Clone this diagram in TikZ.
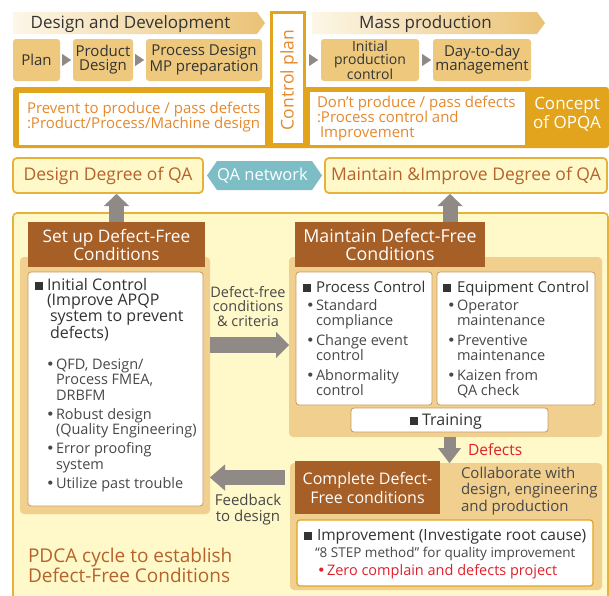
\documentclass[tikz,border=0pt]{standalone}
\usepackage{fontspec}
\setmainfont{Open Sans}
\newfontfamily\djv{DejaVu Sans}
\usetikzlibrary{arrows.meta,calc}
\definecolor{cTan}{HTML}{EEC97D}
\definecolor{cGold}{HTML}{E2A41C}
\definecolor{cGoldL}{HTML}{E6B23A}
\definecolor{cYellow}{HTML}{FFF8C8}
\definecolor{cPanel}{HTML}{F1CF8E}
\definecolor{cBrown}{HTML}{A65F27}
\definecolor{cBrText}{HTML}{B5632B}
\definecolor{cOrange}{HTML}{E6892C}
\definecolor{cTeal}{HTML}{7DBEC6}
\definecolor{cGray}{HTML}{8F8A85}
\definecolor{cDark}{HTML}{333333}
\definecolor{cText}{HTML}{484848}
\definecolor{cRed}{HTML}{E0202A}
\definecolor{cBorder}{HTML}{C99A5E}
\definecolor{cBanL}{HTML}{FDF7E8}
\definecolor{cBanR}{HTML}{EAC276}
\newcommand{\fsz}[2]{\fontsize{#1}{#2}\selectfont}
\newcommand{\sqm}{\textcolor{cDark}{\rule[0.5pt]{8pt}{8pt}}}
\newcommand{\bul}{\llap{{\djv\textbullet}\hspace{1.3pt}}}
\tikzset{
  every node/.style={inner sep=0pt, outer sep=0pt},
  stepbox/.style={fill=cTan, rounded corners=3pt, text=cDark, align=center, font=\fsz{15}{14}},
  hdr/.style={text=cDark, font=\fsz{17}{20}},
  bandtxt/.style={text=cOrange, align=left, font=\fsz{15}{15}, anchor=base west},
  degbox/.style={draw=cGoldL, line width=1.8pt, fill=cYellow, rounded corners=4pt, text=cBrText, font=\fsz{17.5}{20}},
  panel/.style={fill=cPanel, rounded corners=4pt},
  brownbox/.style={fill=cBrown, text=white, align=center, font=\fsz{17.2}{18}},
  whitebox/.style={draw=cBorder, line width=0.8pt, fill=white, rounded corners=3pt},
  headtxt/.style={text=cDark, font=\fsz{16}{15.5}, anchor=base west, align=left},
  listtxt/.style={text=cText, font=\fsz{14.5}{15}, anchor=base west, align=left},
  smalltxt/.style={text=cText, font=\fsz{14.5}{14.5}, anchor=base, align=center},
  tri/.style={draw=cGray, line width=0.1pt, -{Triangle[length=9pt,width=12pt,line width=0.1pt]}},
  uparr/.style={draw=cGray, line width=15pt, -{Triangle[length=12pt,width=25pt,line width=0.1pt]}},
  midarr/.style={draw=cGray, line width=16pt, -{Triangle[length=13pt,width=26pt,line width=0.1pt]}},
  fbarr/.style={draw=cGray, line width=15pt, -{Triangle[length=15pt,width=26pt,line width=0.1pt]}},
  dnarr/.style={draw=cGray, line width=12pt, -{Triangle[length=15pt,width=23pt,line width=0.1pt]}},
}
\begin{document}
\begin{tikzpicture}[x=1pt,y=-1pt]
\useasboundingbox[fill=white] (0,0) rectangle (609,595);

% ---------- top banners ----------
\path[left color=cBanL, right color=cBanR] (13,12) -- (257,12) -- (265,23) -- (257,34) -- (13,34) -- cycle;
\node[hdr, anchor=base] (dd) at (130.5,28) {Design and Development};
\path[left color=cBanL, right color=cBanR] (312,12) -- (537,12) -- (545,23) -- (537,34) -- (312,34) -- cycle;
\node[hdr, anchor=base] (mp) at (425.5,28) {Mass production};

% ---------- gold band ----------
\fill[cGold, rounded corners=3pt] (13,87) rectangle (609,148);
\fill[white] (19,93) rectangle (265,145);
\fill[white] (310,92) rectangle (525,145);
\node[bandtxt] (prev) at (27,128) {Prevent to produce / pass defects\\:Product/Process/Machine design};
\node[bandtxt] (dont) at (317,137) {Don{\char"0027}t produce / pass defects\\:Process control and\\\hspace{3pt}Improvement};
\node[text=white, align=center, anchor=base, font=\fsz{17}{16}] (opqa) at (567,128) {Concept\\of OPQA};

% ---------- control plan ----------
\node[draw=cGold, line width=3pt, fill=white, minimum width=33pt, minimum height=132pt] (cpbox) at (288,78.5) {};
\node[rotate=90, anchor=base, text=cOrange, font=\fsz{17.5}{20}] (cp) at (293.5,80) {Control plan};

% ---------- step boxes ----------
\node[stepbox, minimum width=47pt, minimum height=42pt] (plan) at (36.5,60) {Plan};
\node[stepbox, minimum width=60pt, minimum height=42pt] (prod) at (103,60) {Product\\Design};
\node[stepbox, minimum width=116pt, minimum height=42pt] (proc) at (204,60) {Process Design\\MP preparation};
\node[stepbox, minimum width=98pt, minimum height=42pt, font=\fsz{14}{13}] (init) at (370,60) {Initial\\production\\control};
\node[stepbox, minimum width=98pt, minimum height=42pt] (day) at (482,60) {Day-to-day\\management};
\draw[tri, shorten <=2pt, shorten >=2pt] (plan.east) -- (prod.west);
\draw[tri, shorten <=2pt, shorten >=2pt] (prod.east) -- (proc.west);
\draw[tri, shorten <=4pt, shorten >=3pt] (cpbox.east |- init.west) -- (init.west);
\draw[tri, shorten <=3pt, shorten >=2pt] (init.east) -- (day.west);

% ---------- degree row ----------
\node[degbox, minimum width=190pt, minimum height=35pt] (ddqa) at (108,175.5) {Design Degree of QA};
\node[degbox, minimum width=282pt, minimum height=35pt] (mdqa) at (466,175.5) {Maintain \&Improve Degree of QA};
\fill[cTeal] (207,175.5) -- (217,161) -- (312,161) -- (322,175.5) -- (312,190) -- (217,190) -- cycle;
\node[text=white, anchor=base, font=\fsz{16.5}{18}] (qan) at (262.5,180.5) {QA network};

% ---------- big frame ----------
\draw[draw=cGoldL, line width=1.6pt, fill=cYellow, rounded corners=4pt] (13,213) rectangle (608,605);

% panels
\node[panel, minimum width=190pt, minimum height=257pt] (lp) at (115,385.5) {};
\node[panel, minimum width=313pt, minimum height=180pt] (rp) at (445.5,347) {};
\node[panel, minimum width=312pt, minimum height=127pt] (bp) at (446,526.5) {};

% brown headers
\node[brownbox, minimum width=177pt, minimum height=45pt] (setup) at (116.5,244.5) {Set up Defect-Free\\Conditions};
\node[brownbox, font=\fsz{17.8}{18}, minimum width=190pt, minimum height=45pt] (mdbox) at (390,244.5) {Maintain Defect-Free\\Conditions};
\node[brownbox, minimum width=145pt, minimum height=53pt, font=\fsz{16}{19}] (cdbox) at (367.5,487.5) {Complete Defect-\\Free conditions};

% up arrows
\draw[uparr, shorten >=1pt] (setup.north) -- (setup.north |- ddqa.south);
\draw[uparr, shorten >=1pt] ([xshift=60pt]mdbox.north) -- ([xshift=60pt]mdbox.north |- mdqa.south);

% white boxes
\node[whitebox, minimum width=175pt, minimum height=234pt] (icbox) at (115.5,389) {};
\node[whitebox, minimum width=136pt, minimum height=133pt] (pcbox) at (364,338.5) {};
\node[whitebox, minimum width=158pt, minimum height=133pt] (ecbox) at (516,338.5) {};
\node[whitebox, minimum width=197pt, minimum height=24pt] (trbox) at (449.5,420) {};
\node[whitebox, draw=cGold, line width=1.2pt, minimum width=296pt, minimum height=66pt] (imbox) at (445,553) {};

% texts left box
\node[headtxt] (ict) at (47,338.5) {\llap{\sqm\hspace{4pt}}Initial Control\\(Improve APQP\\\hspace{3pt}system to prevent\\\hspace{3pt}defects)};
\node[listtxt, font=\fsz{14.5}{15.5}] (icl) at (56,488) {\bul QFD, Design/\\Process FMEA,\\DRBFM\\[3.5pt]\bul Robust design\\(Quality Engineering)\\[3.5pt]\bul Error proofing\\system\\[3.5pt]\bul Utilize past trouble};

% process / equipment control
\node[headtxt, font=\fsz{15}{15}] (pct) at (316,292) {\llap{\sqm\hspace{5pt}}Process Control};
\node[listtxt] (pcl) at (316,395) {\bul Standard\\compliance\\[5pt]\bul Change event\\control\\[5pt]\bul Abnormality\\control};
\node[headtxt, font=\fsz{15}{15}] (ect) at (457,292) {\llap{\sqm\hspace{6pt}}Equipment Control};
\node[listtxt] (ecl) at (457,395) {\bul Operator\\maintenance\\[5pt]\bul Preventive\\maintenance\\[5pt]\bul Kaizen from\\QA check};
\node[text=cDark, font=\fsz{16}{16}, anchor=base] (trt) at (446,425) {\sqm\hspace{4pt}Training};

% improvement
\node[headtxt, font=\fsz{15.5}{16}] (imt) at (317,540) {\llap{\sqm\hspace{5pt}}Improvement (Investigate root cause)};
\node[listtxt, font=\fsz{13.5}{14}] (ims) at (315,557) {“8 STEP method” for quality improvement};
\node[listtxt, text=cRed] (imz) at (327,575) {\bul Zero complain and defects project};
\node[listtxt, font=\fsz{15}{16.5}] (colab) at (461,511) {Collaborate with\\design, engineering\\and production};

% arrows between panels
\coordinate (midy) at (0,345);
\coordinate (fby) at (0,477.5);
\draw[midarr] (lp.east |- midy) -- (rp.west |- midy);
\draw[fbarr, shorten <=5pt] (bp.west |- fby) -- (lp.east |- fby);
\draw[dnarr] (trbox.south |- rp.south) -- (trbox.south |- bp.north);

\node[smalltxt] (dfc) at (248,326) {Defect-free\\conditions\\\& criteria};
\node[smalltxt, font=\fsz{15}{16}] (fbt) at (248,521) {Feedback\\to design};
\node[anchor=base west, text=cRed, font=\fsz{15.5}{16}] (dft) at (468,455) {Defects};
\node[anchor=base west, align=left, text=cBrText, font=\fsz{19}{20}] (pdca) at (28,582) {PDCA cycle to establish\\Defect-Free Conditions};
\end{tikzpicture}
\end{document}
